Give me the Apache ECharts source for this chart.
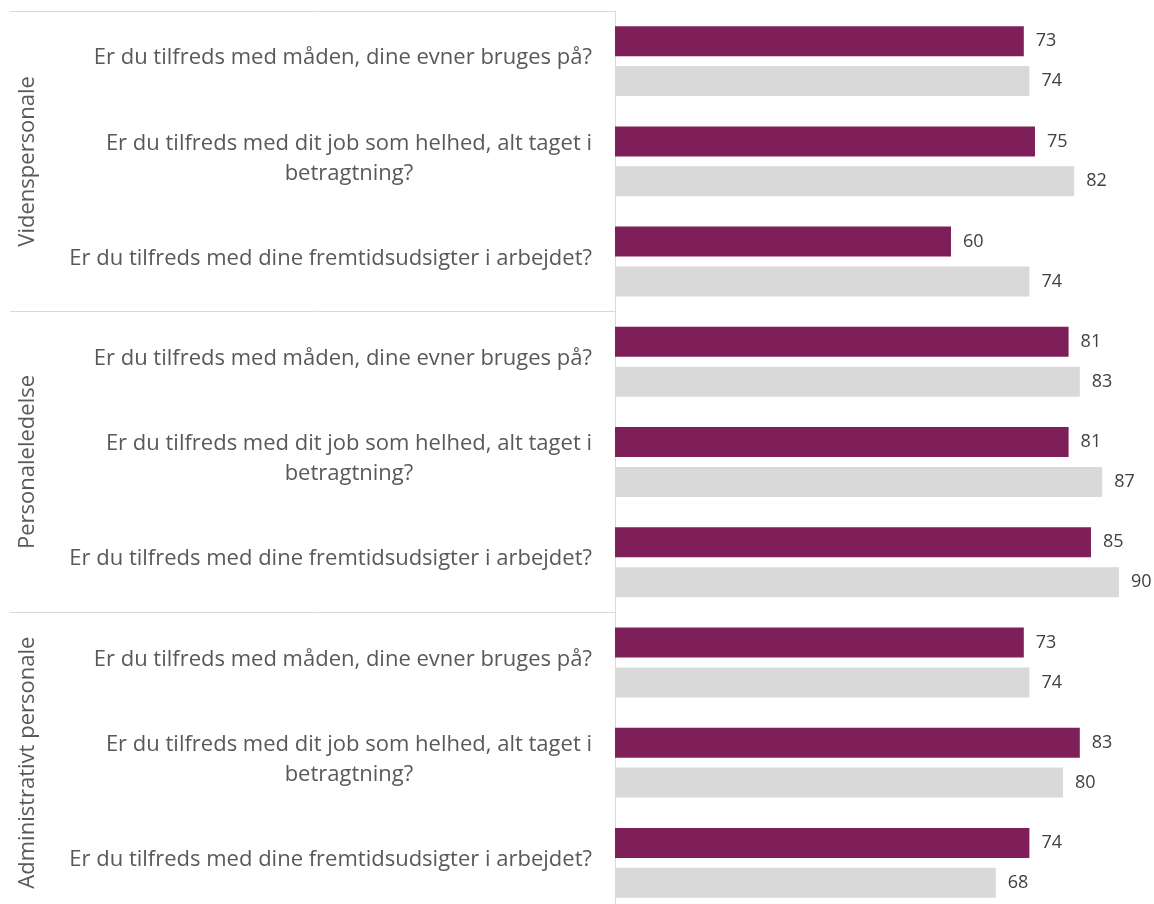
<!DOCTYPE html>
<html>
<head>
<meta charset="utf-8">
<script src="https://cdn.jsdelivr.net/npm/echarts@6/dist/echarts.min.js"></script>
<style>
  html, body { margin: 0; padding: 0; background: #ffffff; }
  #chart { width: 1154px; height: 904px; }
</style>
</head>
<body>
<div id="chart"></div>
<script>
const groups = ['Videnspersonale', 'Personaleledelse', 'Administrativt personale'];
const questions = [
  'Er du tilfreds med måden, dine evner bruges på?',
  'Er du tilfreds med dit job som helhed, alt taget i\nbetragtning?',
  'Er du tilfreds med dine fremtidsudsigter i arbejdet?',
  'Er du tilfreds med måden, dine evner bruges på?',
  'Er du tilfreds med dit job som helhed, alt taget i\nbetragtning?',
  'Er du tilfreds med dine fremtidsudsigter i arbejdet?',
  'Er du tilfreds med måden, dine evner bruges på?',
  'Er du tilfreds med dit job som helhed, alt taget i\nbetragtning?',
  'Er du tilfreds med dine fremtidsudsigter i arbejdet?'
];
const valuesPurple = [73, 75, 60, 81, 81, 85, 73, 83, 74];
const valuesGray = [74, 82, 74, 83, 87, 90, 74, 80, 68];

const FONT = '"Open Sans", "Noto Sans", sans-serif';
const chart = echarts.init(document.getElementById('chart'), null, { renderer: 'canvas' });

const labelCfg = {
  show: true,
  position: 'right',
  distance: 12,
  fontFamily: FONT,
  fontSize: 18,
  color: '#404040'
};

chart.setOption({
  animation: false,
  backgroundColor: '#ffffff',
  grid: { left: 615, right: 7, top: 11, height: 902, containLabel: false, outerBoundsMode: 'none' },
  xAxis: {
    type: 'value',
    min: 0,
    max: 95,
    show: false
  },
  yAxis: [
    {
      type: 'category',
      data: questions,
      inverse: true,
      position: 'left',
      axisLine: { show: true, lineStyle: { color: '#D9D9D9', width: 1 } },
      axisTick: { show: false },
      splitLine: { show: false },
      axisLabel: {
        interval: 0,
        margin: 23,
        padding: [0, 0, 6, 0],
        formatter: function (v) {
          return v.split('\n').map(function (l) { return '{c|' + l + '}'; }).join('\n');
        },
        rich: {
          c: {
            align: 'center',
            fontFamily: FONT,
            fontSize: 22,
            lineHeight: 30,
            color: '#595959'
          }
        }
      }
    },
    {
      type: 'category',
      data: groups,
      inverse: true,
      position: 'left',
      offset: 0,
      axisLine: { show: false },
      axisTick: { show: true, length: 605, lineStyle: { color: '#D9D9D9', width: 1 } },
      splitLine: { show: false },
      axisLabel: {
        interval: 0,
        rotate: 90,
        margin: 576,
        fontFamily: FONT,
        fontSize: 22,
        color: '#595959'
      }
    }
  ],
  series: [
    {
      type: 'bar',
      data: valuesPurple,
      yAxisIndex: 0,
      barWidth: 30,
      barGap: '33%',
      itemStyle: { color: '#7F1F5A' },
      label: labelCfg
    },
    {
      type: 'bar',
      data: valuesGray,
      yAxisIndex: 0,
      barWidth: 30,
      barGap: '33%',
      itemStyle: { color: '#D9D9D9' },
      label: labelCfg
    }
  ]
});
</script>
</body>
</html>
